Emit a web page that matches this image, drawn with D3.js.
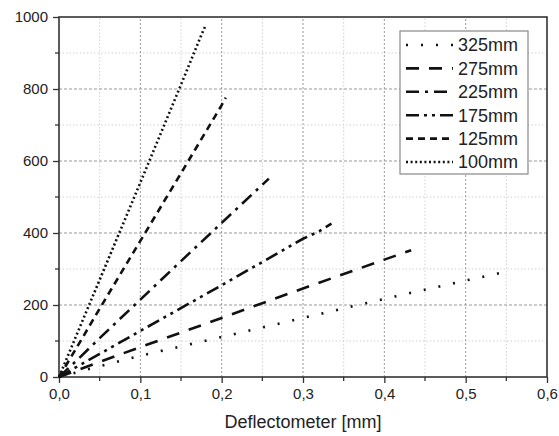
<!DOCTYPE html>
<html>
<head>
<meta charset="utf-8">
<script src="https://cdnjs.cloudflare.com/ajax/libs/d3/7.8.5/d3.min.js"></script>
<style>
  body { margin: 0; background: #fff; }
  text { font-family: "Liberation Sans", Arial, sans-serif; fill: #222; }
</style>
</head>
<body>
<div id="chart"></div>
<script>
// series: [deflection mm, load]
var s325 = [[0,0],[0.02,12],[0.05,30],[0.1,59],[0.2,111],[0.3,164],[0.4,217],[0.5,268],[0.553,294]];
var s275 = [[0,0],[0.02,17],[0.05,42],[0.1,83],[0.2,164],[0.3,246],[0.4,326],[0.433,352]];
var s225 = [[0,0],[0.02,42],[0.05,108],[0.1,215],[0.15,322],[0.2,428],[0.258,551]];
var s175 = [[0,0],[0.02,26],[0.05,64],[0.1,128],[0.2,255],[0.3,384],[0.32,405],[0.335,426]];
var s125 = [[0,0],[0.02,75],[0.05,190],[0.1,378],[0.15,566],[0.2,755],[0.205,776]];
var s100 = [[0,0],[0.02,108],[0.05,270],[0.1,540],[0.15,812],[0.175,950],[0.18,975]];

var names = ["325mm", "275mm", "225mm", "175mm", "125mm", "100mm"];
var series = [s325, s275, s225, s175, s125, s100];
var dashes = ["2,13", "13,10", "13,6,3,6", "13,5,3,5,3,5", "7,5", "2,2.6"];

var xTicks = [0, 0.1, 0.2, 0.3, 0.4, 0.5, 0.6];
var yTicks = [0, 200, 400, 600, 800, 1000];

var W = 559, H = 436;
var m = {left: 59, right: 12, top: 17, bottom: 59};

var svg = d3.select('#chart').append('svg')
    .attr('width', W)
    .attr('height', H);

var x = d3.scaleLinear().domain([0, 0.6]).range([m.left, W - m.right]);
var y = d3.scaleLinear().domain([0, 1000]).range([H - m.bottom, m.top]);

// grid: minor first, then major
var minorX = d3.range(0.05, 0.6, 0.1);
var minorY = d3.range(100, 1000, 200);
var grid = svg.append('g');
grid.selectAll('.mx').data(minorX).enter().append('line')
    .attr('x1', d => x(d)).attr('x2', d => x(d))
    .attr('y1', y(0)).attr('y2', y(1000))
    .attr('stroke', '#d0d0d0').attr('stroke-dasharray', '1.5,2');
grid.selectAll('.my').data(minorY).enter().append('line')
    .attr('x1', x(0)).attr('x2', x(0.6))
    .attr('y1', d => y(d)).attr('y2', d => y(d))
    .attr('stroke', '#d0d0d0').attr('stroke-dasharray', '1.5,2');
grid.selectAll('.Mx').data(xTicks.slice(1, -1)).enter().append('line')
    .attr('x1', d => x(d)).attr('x2', d => x(d))
    .attr('y1', y(0)).attr('y2', y(1000))
    .attr('stroke', '#999').attr('stroke-dasharray', '2,2');
grid.selectAll('.My').data(yTicks.slice(1, -1)).enter().append('line')
    .attr('x1', x(0)).attr('x2', x(0.6))
    .attr('y1', d => y(d)).attr('y2', d => y(d))
    .attr('stroke', '#999').attr('stroke-dasharray', '3,2');

// axes
var fmt = d3.format('.1f');
var xAxis = svg.append('g')
    .attr('transform', 'translate(0,' + y(0) + ')')
    .call(d3.axisBottom(x).tickValues(xTicks).tickSize(6).tickPadding(5)
        .tickFormat(d => fmt(d).replace('.', ',')));
xAxis.append('g').selectAll('line').data(minorX).enter().append('line')
    .attr('x1', d => x(d)).attr('x2', d => x(d))
    .attr('y1', 0).attr('y2', 4).attr('stroke', '#333').attr('stroke-width', 1.3);

var yAxis = svg.append('g')
    .attr('transform', 'translate(' + x(0) + ',0)')
    .call(d3.axisLeft(y).tickValues(yTicks).tickSize(6).tickPadding(5)
        .tickFormat(d3.format('d')));
yAxis.append('g').selectAll('line').data(minorY).enter().append('line')
    .attr('y1', d => y(d)).attr('y2', d => y(d))
    .attr('x1', 0).attr('x2', -4).attr('stroke', '#333').attr('stroke-width', 1.3);

[xAxis, yAxis].forEach(function(a) {
    a.select('.domain').remove();
    a.selectAll('.tick line').attr('stroke', '#333').attr('stroke-width', 1.3);
    a.selectAll('.tick text').style('font-size', '15px').attr('fill', '#222');
});

// frame
svg.append('rect')
    .attr('x', x(0)).attr('y', y(1000))
    .attr('width', x(0.6) - x(0)).attr('height', y(0) - y(1000))
    .attr('fill', 'none').attr('stroke', '#333').attr('stroke-width', 1.6);

// lines
var line = d3.line().x(d => x(d[0])).y(d => y(d[1]));
svg.append('g').selectAll('path').data(series).enter().append('path')
    .attr('d', line)
    .attr('fill', 'none')
    .attr('stroke', '#111')
    .attr('stroke-width', 2.6)
    .attr('stroke-dasharray', (d, i) => dashes[i]);

svg.append('text')
    .attr('x', (x(0) + x(0.6)) / 2).attr('y', 428)
    .attr('text-anchor', 'middle')
    .style('font-size', '18px')
    .text('Deflectometer [mm]');

// legend
var lg = svg.append('g').attr('transform', 'translate(400,31)');
lg.append('rect')
    .attr('width', 128).attr('height', 143)
    .attr('fill', '#fff').attr('stroke', '#888').attr('stroke-width', 1.2);
var rows = lg.selectAll('.row').data(names).enter().append('g')
    .attr('transform', (d, i) => 'translate(0,' + (14 + i * 23.4) + ')');
rows.append('line')
    .attr('x1', 6).attr('x2', 53)
    .attr('stroke', '#111').attr('stroke-width', 2.6)
    .attr('stroke-dasharray', (d, i) => dashes[i]);
rows.append('text')
    .attr('x', 58).attr('dy', '0.36em')
    .style('font-size', '18px')
    .text(d => d);
</script>
</body>
</html>
